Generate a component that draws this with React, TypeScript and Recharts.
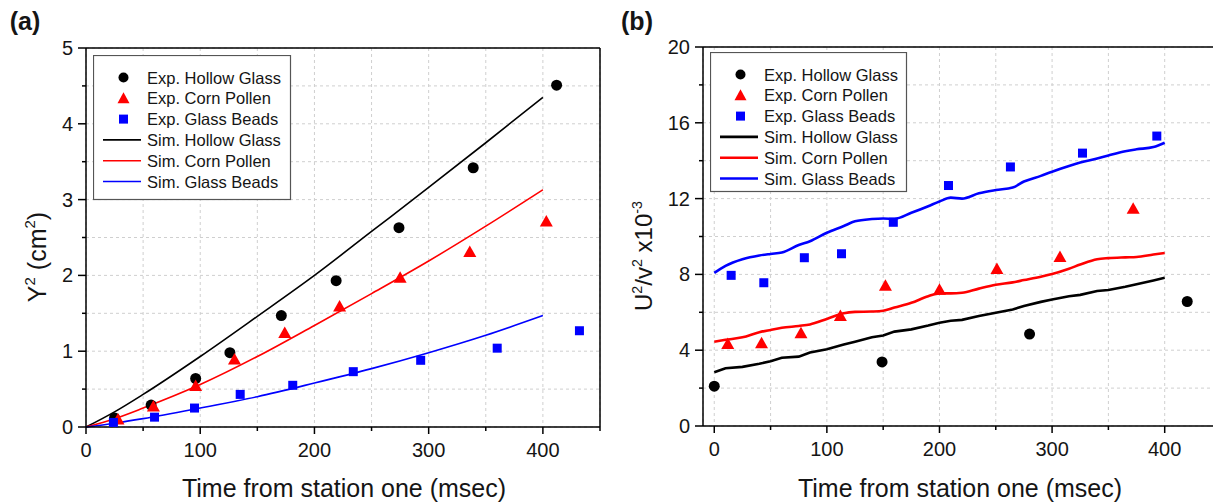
import { ComposedChart, Scatter, Line, XAxis, YAxis, CartesianGrid, ReferenceLine } from "recharts";

// ---- panel (a): Y^2 vs time ----
const hollowExpTimeA = [25, 57, 96, 126, 171, 219, 274, 339, 412];
const hollowExpA = [0.12, 0.29, 0.64, 0.98, 1.47, 1.93, 2.63, 3.42, 4.51];
const cornExpTimeA = [28, 59, 96, 130, 174, 222, 275, 336, 403];
const cornExpA = [0.1, 0.27, 0.54, 0.89, 1.24, 1.59, 1.97, 2.31, 2.71];
const beadsExpTimeA = [24, 60, 95, 135, 181, 234, 293, 360, 432];
const beadsExpA = [0.06, 0.13, 0.25, 0.43, 0.55, 0.73, 0.88, 1.04, 1.27];

const simTimeA = [0, 25, 50, 100, 150, 200, 250, 300, 350, 400];
const hollowSimA = [0, 0.2, 0.43, 0.93, 1.46, 2.0, 2.58, 3.16, 3.75, 4.35];
const cornSimA = [0, 0.11, 0.25, 0.56, 0.93, 1.34, 1.76, 2.19, 2.65, 3.13];
const beadsSimA = [0, 0.05, 0.11, 0.25, 0.4, 0.58, 0.77, 0.98, 1.21, 1.47];

const xTicksA = [0, 50, 100, 150, 200, 250, 300, 350, 400, 450];
const yTicksA = [0, 0.5, 1, 1.5, 2, 2.5, 3, 3.5, 4, 4.5, 5];

// ---- panel (b): U^2/v^2 vs time ----
const hollowExpTimeB = [0, 149, 280, 420];
const hollowExpB = [2.1, 3.38, 4.85, 6.57];
const cornExpTimeB = [12, 42, 77, 112, 152, 200, 251, 307, 372];
const cornExpB = [4.33, 4.37, 4.9, 5.81, 7.4, 7.19, 8.28, 8.92, 11.47];
const beadsExpTimeB = [15, 44, 80, 113, 159, 208, 263, 327, 393];
const beadsExpB = [7.95, 7.56, 8.88, 9.09, 10.75, 12.69, 13.67, 14.4, 15.3];

const simTimeB = [0, 10, 25, 40, 50, 60, 75, 85, 100, 115, 125, 140, 150, 160, 175, 190, 200, 210, 220, 235, 250, 265, 275, 290, 300, 315, 325, 340, 350, 365, 375, 390, 400];
const hollowSimB = [2.84, 3.05, 3.12, 3.28, 3.42, 3.6, 3.66, 3.88, 4.05, 4.3, 4.45, 4.68, 4.78, 4.98, 5.1, 5.3, 5.45, 5.55, 5.6, 5.8, 5.98, 6.15, 6.33, 6.55, 6.68, 6.85, 6.92, 7.12, 7.18, 7.35, 7.48, 7.68, 7.82];
const cornSimB = [4.45, 4.55, 4.68, 4.95, 5.07, 5.18, 5.28, 5.36, 5.65, 5.95, 6.02, 6.04, 6.08, 6.25, 6.5, 6.85, 7.0, 7.0, 7.03, 7.25, 7.45, 7.58, 7.7, 7.88, 8.02, 8.3, 8.52, 8.8, 8.86, 8.9, 8.92, 9.05, 9.13];
const beadsSimB = [8.08, 8.45, 8.8, 9.0, 9.08, 9.15, 9.55, 9.75, 10.2, 10.55, 10.8, 10.92, 10.95, 10.93, 11.25, 11.6, 11.85, 12.05, 12.0, 12.28, 12.45, 12.58, 12.9, 13.2, 13.42, 13.72, 13.9, 14.12, 14.28, 14.5, 14.6, 14.72, 14.95];

const xTicksB = [0, 50, 100, 150, 200, 250, 300, 350, 400, 450];
const yTicksB = [0, 2, 4, 6, 8, 10, 12, 14, 16, 18, 20];

const legendNames = [
  "Exp. Hollow Glass",
  "Exp. Corn Pollen",
  "Exp. Glass Beads",
  "Sim. Hollow Glass",
  "Sim. Corn Pollen",
  "Sim. Glass Beads",
];
const colors = ["#000000", "#ff0000", "#0000ff"];

const FONT = "'Liberation Sans', Arial, sans-serif";
const TEXT = "#151515";

const pts = (xs: number[], ys: number[]) => xs.map((x, i) => ({ x, y: ys[i] }));

const Circle = (p: any) => <circle cx={p.cx} cy={p.cy} r={5.5} fill="#000" />;
const Tri = (p: any) => (
  <polygon points={`${p.cx},${p.cy - 6.5} ${p.cx - 6.5},${p.cy + 5} ${p.cx + 6.5},${p.cy + 5}`} fill="#ff0000" />
);
const Sq = (p: any) => <rect x={p.cx - 4.5} y={p.cy - 4.5} width={9} height={9} fill="#0000ff" />;

const isMajor = (v: number, step: number) => Math.abs(v / step - Math.round(v / step)) < 1e-6;

const xTick = (step: number) => (props: any) => {
  const v = props.payload.value;
  const major = isMajor(v, step);
  return (
    <g>
      <line x1={props.x} y1={props.y} x2={props.x} y2={props.y + (major ? 7 : 4)} stroke="#000" strokeWidth={1.5} />
      {major && (
        <text x={props.x} y={props.y + 30} textAnchor="middle" fontSize={20} fontFamily={FONT} fill={TEXT}>
          {v}
        </text>
      )}
    </g>
  );
};

const yTick = (step: number) => (props: any) => {
  const v = props.payload.value;
  const major = isMajor(v, step);
  return (
    <g>
      <line x1={props.x - (major ? 8 : 4)} y1={props.y} x2={props.x} y2={props.y} stroke="#000" strokeWidth={1.5} />
      {major && (
        <text x={props.x - 13} y={props.y + 7} textAnchor="end" fontSize={20} fontFamily={FONT} fill={TEXT}>
          {v}
        </text>
      )}
    </g>
  );
};

function LegendBox({ left, top, width, height, lineWidth }: any) {
  const shapes = [
    (cx: number, cy: number) => <circle cx={cx} cy={cy} r={5} fill="#000" />,
    (cx: number, cy: number) => <polygon points={`${cx},${cy - 6} ${cx - 6},${cy + 5} ${cx + 6},${cy + 5}`} fill="#ff0000" />,
    (cx: number, cy: number) => <rect x={cx - 4.5} y={cy - 4.5} width={9} height={9} fill="#0000ff" />,
  ];
  return (
    <svg style={{ position: "absolute", left, top }} width={width + 2} height={height + 2}>
      <rect x={0.5} y={0.5} width={width} height={height} fill="#fff" stroke="#555" strokeWidth={1.2} />
      {legendNames.map((name, i) => {
        const cy = 22.5 + i * 20.8;
        return (
          <g key={name}>
            {i < 3
              ? shapes[i](30.5, cy)
              : <line x1={10} y1={cy} x2={48} y2={cy} stroke={colors[i - 3]} strokeWidth={lineWidth} />}
            <text x={54} y={cy + 6} fontSize={16.5} fontFamily={FONT} fill={TEXT}>
              {name}
            </text>
          </g>
        );
      })}
    </svg>
  );
}

const abs = (left: number, top: number, extra: any = {}) => ({
  position: "absolute" as const,
  left,
  top,
  transform: "translate(-50%, -50%)" + (extra.rotate ? " rotate(-90deg)" : ""),
  whiteSpace: "nowrap" as const,
  lineHeight: 1,
  fontFamily: FONT,
  color: TEXT,
  fontSize: extra.size || 25,
  fontWeight: extra.bold ? 700 : 400,
});

const sup = { fontSize: "0.6em", verticalAlign: "0.7em" };

export default function App() {
  return (
    <div style={{ position: "absolute", left: 0, top: 0, width: 1213, height: 504, overflow: "hidden", background: "#fff", fontFamily: FONT }}>
      {/* panel (a) */}
      <div style={{ position: "absolute", left: 0, top: 0 }}>
        <ComposedChart width={605} height={504} margin={{ top: 48, right: 5, bottom: 0, left: 0 }}>
          <CartesianGrid stroke="#cfcfcf" strokeDasharray="3 3" />
          <XAxis type="number" dataKey="x" domain={[0, 450]} ticks={xTicksA} interval={0} height={77}
            axisLine={{ stroke: "#000", strokeWidth: 1.5 }} tickLine={false} tickSize={0} tickMargin={0} tick={xTick(100)} />
          <YAxis type="number" dataKey="y" domain={[0, 5]} ticks={yTicksA} interval={0} width={86}
            axisLine={{ stroke: "#000", strokeWidth: 1.5 }} tickLine={false} tickSize={0} tickMargin={0} tick={yTick(1)} />
          <ReferenceLine y={5} stroke="#000" strokeWidth={1.5} />
          <ReferenceLine x={450} stroke="#000" strokeWidth={1.5} />
          <Line data={pts(simTimeA, hollowSimA)} dataKey="y" type="monotone" stroke={colors[0]} strokeWidth={1.6} dot={false} isAnimationActive={false} />
          <Line data={pts(simTimeA, cornSimA)} dataKey="y" type="monotone" stroke={colors[1]} strokeWidth={1.6} dot={false} isAnimationActive={false} />
          <Line data={pts(simTimeA, beadsSimA)} dataKey="y" type="monotone" stroke={colors[2]} strokeWidth={1.6} dot={false} isAnimationActive={false} />
          <Scatter data={pts(hollowExpTimeA, hollowExpA)} dataKey="y" shape={Circle} isAnimationActive={false} />
          <Scatter data={pts(cornExpTimeA, cornExpA)} dataKey="y" shape={Tri} isAnimationActive={false} />
          <Scatter data={pts(beadsExpTimeA, beadsExpA)} dataKey="y" shape={Sq} isAnimationActive={false} />
        </ComposedChart>
      </div>
      <LegendBox left={93} top={55} width={197} height={144} lineWidth={1.6} />

      {/* panel (b) */}
      <div style={{ position: "absolute", left: 610, top: 0 }}>
        <ComposedChart width={611} height={504} margin={{ top: 47, right: 0, bottom: 0, left: 0 }}>
          <CartesianGrid stroke="#cfcfcf" strokeDasharray="3 3" />
          <XAxis type="number" dataKey="x" domain={[-10, 450]} ticks={xTicksB} interval={0} height={78}
            axisLine={{ stroke: "#000", strokeWidth: 1.5 }} tickLine={false} tickSize={0} tickMargin={0} tick={xTick(100)} />
          <YAxis type="number" dataKey="y" domain={[0, 20]} ticks={yTicksB} interval={0} width={93}
            axisLine={{ stroke: "#000", strokeWidth: 1.5 }} tickLine={false} tickSize={0} tickMargin={0} tick={yTick(4)} />
          <ReferenceLine y={20} stroke="#000" strokeWidth={1.5} />
          <Line data={pts(simTimeB, hollowSimB)} dataKey="y" type="linear" stroke={colors[0]} strokeWidth={2.6} dot={false} isAnimationActive={false} />
          <Line data={pts(simTimeB, cornSimB)} dataKey="y" type="monotone" stroke={colors[1]} strokeWidth={2.6} dot={false} isAnimationActive={false} />
          <Line data={pts(simTimeB, beadsSimB)} dataKey="y" type="monotone" stroke={colors[2]} strokeWidth={2.6} dot={false} isAnimationActive={false} />
          <Scatter data={pts(hollowExpTimeB, hollowExpB)} dataKey="y" shape={Circle} isAnimationActive={false} />
          <Scatter data={pts(cornExpTimeB, cornExpB)} dataKey="y" shape={Tri} isAnimationActive={false} />
          <Scatter data={pts(beadsExpTimeB, beadsExpB)} dataKey="y" shape={Sq} isAnimationActive={false} />
        </ComposedChart>
      </div>
      <LegendBox left={710} top={52} width={196} height={139} lineWidth={2.6} />

      {/* labels */}
      <div style={abs(25, 21, { bold: true, size: 25 })}>(a)</div>
      <div style={abs(637, 21, { bold: true, size: 25 })}>(b)</div>
      <div style={abs(344, 488)}>Time from station one (msec)</div>
      <div style={abs(960, 488)}>Time from station one (msec)</div>
      <div style={abs(36, 257, { rotate: true })}>
        Y<span style={sup}>2</span> (cm<span style={sup}>2</span>)
      </div>
      <div style={abs(643, 256, { rotate: true, size: 24 })}>
        U<span style={sup}>2</span>/v<span style={sup}>2</span> x10<span style={sup}>-3</span>
      </div>
    </div>
  );
}
